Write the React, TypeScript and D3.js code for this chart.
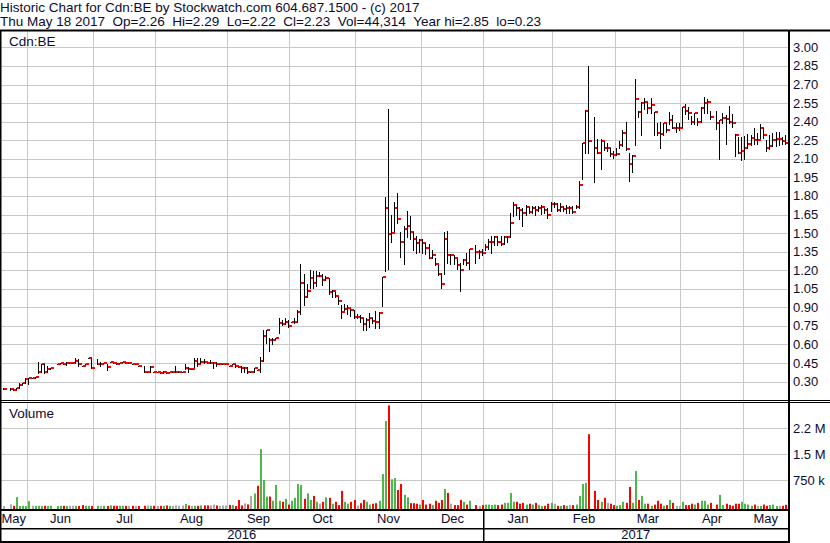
import React from 'react';
import * as d3 from 'd3';

// [high, low, close]; null = no trade that day
type Bar = [number, number, number] | null;

const MAY16: Bar[] = [null, [0.25, 0.24, 0.24], null, [0.25, 0.23, 0.24], [0.24, 0.23, 0.23], [0.25, 0.24, 0.25], [0.29, 0.25, 0.27], [0.29, 0.28, 0.29], [0.33, 0.29, 0.32]];
const JUN16: Bar[] = [[0.33, 0.28, 0.33], [0.33, 0.33, 0.33], [0.34, 0.33, 0.34], [0.46, 0.37, 0.38], [0.44, 0.38, 0.44], [0.44, 0.37, 0.38], [0.43, 0.38, 0.4], [0.41, 0.4, 0.41], null, [0.44, 0.44, 0.44], [0.45, 0.45, 0.45], [0.44, 0.44, 0.44], [0.455, 0.435, 0.45], [0.45, 0.45, 0.45], [0.45, 0.45, 0.45], [0.49, 0.45, 0.47], [0.48, 0.43, 0.44], [0.43, 0.43, 0.43], [0.44, 0.44, 0.44], [0.49, 0.49, 0.49], [0.49, 0.41, 0.41]];
const JUL16: Bar[] = [null, [0.48, 0.44, 0.44], [0.46, 0.43, 0.44], [0.45, 0.45, 0.45], [0.445, 0.39, 0.42], [0.46, 0.46, 0.46], [0.45, 0.45, 0.45], [0.44, 0.44, 0.44], [0.45, 0.45, 0.45], [0.455, 0.455, 0.455], [0.45, 0.45, 0.45], [0.45, 0.45, 0.45], [0.44, 0.44, 0.44], [0.44, 0.44, 0.44], [0.43, 0.43, 0.43], null, [0.43, 0.38, 0.38], [0.38, 0.38, 0.38], [0.43, 0.38, 0.42], [0.38, 0.38, 0.38]];
const AUG16: Bar[] = [[0.38, 0.38, 0.38], [0.37, 0.37, 0.37], [0.385, 0.37, 0.38], [0.37, 0.37, 0.37], [0.38, 0.38, 0.38], [0.38, 0.38, 0.38], [0.43, 0.38, 0.38], [0.38, 0.38, 0.38], [0.38, 0.38, 0.38], [0.44, 0.4, 0.41], [0.42, 0.38, 0.4], [0.4, 0.4, 0.4], [0.49, 0.42, 0.47], [0.49, 0.43, 0.44], [0.49, 0.45, 0.46], [0.48, 0.45, 0.455], [0.45, 0.45, 0.45], [0.475, 0.45, 0.45], [0.46, 0.41, 0.45], [0.455, 0.43, 0.44], [0.44, 0.44, 0.44], [0.44, 0.44, 0.44], [0.44, 0.44, 0.44]];
const SEP16: Bar[] = [[0.43, 0.43, 0.43], [0.44, 0.44, 0.44], [0.44, 0.42, 0.43], [0.42, 0.42, 0.42], [0.43, 0.38, 0.41], [0.42, 0.38, 0.41], [0.42, 0.37, 0.38], [0.38, 0.38, 0.38], [0.41, 0.38, 0.41], [0.39, 0.39, 0.39], [0.5, 0.38, 0.47], [0.72, 0.47, 0.665], [0.72, 0.61, 0.715], [0.655, 0.55, 0.635], [0.655, 0.6, 0.64], [0.655, 0.645, 0.655], [0.81, 0.69, 0.775], [0.8, 0.76, 0.765], [0.81, 0.765, 0.785], [0.8, 0.745, 0.75]];
const OCT16: Bar[] = [[0.78, 0.78, 0.78], [0.81, 0.775, 0.785], [0.875, 0.78, 0.86], [1.25, 0.85, 1.1], [1.17, 0.92, 0.98], [1.09, 0.985, 1.03], [1.2, 1.06, 1.14], [1.19, 1.06, 1.1], [1.19, 1.07, 1.155], [1.185, 1.15, 1.155], [1.17, 1.08, 1.12], [1.155, 1.12, 1.14], [1.14, 1.01, 1.025], [1.04, 0.985, 1.03], [1.025, 0.985, 0.99], [0.985, 0.93, 0.95], [0.92, 0.81, 0.865], [0.93, 0.88, 0.885], [0.92, 0.85, 0.895], [0.89, 0.83, 0.875], [0.875, 0.81, 0.82]];
const NOV16: Bar[] = [[0.85, 0.81, 0.82], [0.835, 0.78, 0.81], [0.81, 0.72, 0.765], [0.81, 0.72, 0.795], [0.855, 0.74, 0.815], [0.81, 0.77, 0.79], [0.87, 0.73, 0.785], [0.86, 0.73, 0.855], [1.145, 0.91, 1.145], [1.79, 1.195, 1.7], [2.5, 1.21, 1.495], [1.65, 1.43, 1.5], [1.75, 1.52, 1.7], [1.82, 1.585, 1.61], [1.51, 1.31, 1.43], [1.56, 1.25, 1.53], [1.68, 1.47, 1.56], [1.64, 1.45, 1.51], [1.51, 1.36, 1.45], [1.48, 1.34, 1.42], [1.45, 1.35, 1.44]];
const DEC16: Bar[] = [[1.45, 1.34, 1.42], [1.42, 1.33, 1.38], [1.41, 1.3, 1.3], [1.36, 1.3, 1.32], [1.3, 1.24, 1.25], [1.24, 1.16, 1.17], [1.18, 1.06, 1.09], [1.51, 1.17, 1.45], [1.52, 1.255, 1.32], [1.33, 1.25, 1.32], [1.32, 1.25, 1.3], [1.29, 1.21, 1.245], [1.26, 1.03, 1.2], [1.29, 1.25, 1.28], [1.34, 1.24, 1.255], [1.37, 1.21, 1.37], null, [1.405, 1.255, 1.345], [1.365, 1.3, 1.345], [1.375, 1.32, 1.335]];
const JAN17: Bar[] = [[1.41, 1.365, 1.385], [1.455, 1.375, 1.425], [1.48, 1.34, 1.43], [1.48, 1.4, 1.465], [1.48, 1.4, 1.43], [1.48, 1.4, 1.41], [1.48, 1.41, 1.465], [1.48, 1.43, 1.47], [1.66, 1.47, 1.58], [1.75, 1.64, 1.725], [1.73, 1.65, 1.7], [1.71, 1.61, 1.685], [1.7, 1.56, 1.66], [1.73, 1.65, 1.71], [1.71, 1.66, 1.67], [1.715, 1.66, 1.7], [1.72, 1.65, 1.685], [1.715, 1.675, 1.7], [1.73, 1.655, 1.71], [1.7, 1.66, 1.69], [1.705, 1.625, 1.645], [1.75, 1.675, 1.735]];
const FEB17: Bar[] = [[1.75, 1.71, 1.735], [1.74, 1.675, 1.69], [1.74, 1.675, 1.71], [1.72, 1.675, 1.695], [1.73, 1.665, 1.7], [1.72, 1.665, 1.7], [1.715, 1.665, 1.67], [1.73, 1.7, 1.71], [1.92, 1.7, 1.89], [2.23, 1.94, 2.23], [2.495, 2.15, 2.49], [2.85, 2.145, 2.24], null, [2.44, 1.91, 2.185], [2.26, 2.145, 2.15], [2.26, 2.02, 2.24], [2.24, 2.17, 2.19], [2.23, 2.16, 2.19], [2.19, 2.12, 2.14], [2.16, 2.11, 2.13]];
const MAR17: Bar[] = [[2.19, 2.13, 2.14], [2.24, 2.19, 2.21], [2.33, 2.2, 2.31], [2.4, 2.17, 2.18], [2.145, 1.92, 2.055], [2.13, 1.99, 2.125], [2.745, 2.21, 2.58], [2.49, 2.44, 2.48], [2.56, 2.29, 2.55], [2.59, 2.5, 2.555], [2.555, 2.47, 2.51], [2.59, 2.47, 2.535], [2.48, 2.29, 2.475], [2.39, 2.29, 2.31], [2.4, 2.19, 2.3], [2.39, 2.29, 2.39], [2.39, 2.32, 2.335], [2.48, 2.38, 2.41], [2.455, 2.345, 2.345], [2.39, 2.32, 2.345], [2.39, 2.335, 2.345]];
const APR17: Bar[] = [[2.52, 2.36, 2.515], [2.54, 2.465, 2.49], [2.515, 2.42, 2.47], [2.445, 2.38, 2.4], [2.47, 2.38, 2.47], [2.43, 2.37, 2.4], [2.52, 2.4, 2.51], [2.6, 2.47, 2.55], [2.58, 2.47, 2.56], [2.49, 2.42, 2.44], null, [2.485, 2.34, 2.39], [2.415, 2.1, 2.41], [2.47, 2.39, 2.43], [2.45, 2.22, 2.42], [2.53, 2.39, 2.395], [2.46, 2.36, 2.39], [2.3, 2.12, 2.29], [2.28, 2.145, 2.15], [2.275, 2.09, 2.165]];
const MAY17: Bar[] = [[2.285, 2.1, 2.185], [2.3, 2.19, 2.22], [2.29, 2.21, 2.265], [2.345, 2.22, 2.25], [2.31, 2.22, 2.25], [2.38, 2.265, 2.345], [2.345, 2.265, 2.29], [2.25, 2.16, 2.19], [2.29, 2.18, 2.2], [2.31, 2.2, 2.25], [2.315, 2.2, 2.26], [2.315, 2.21, 2.26], [2.28, 2.22, 2.24], [2.29, 2.22, 2.23]];

// daily volume, thousands of shares
const VOL_MAY16 = [0, 10, 0, 55, 15, 265, 10, 15, 10];
const VOL_JUN16 = [150, 15, 15, 15, 10, 15, 10, 15, 0, 10, 15, 15, 10, 15, 15, 15, 10, 35, 15, 15, 10];
const VOL_JUL16 = [0, 15, 15, 15, 10, 25, 15, 15, 15, 15, 15, 15, 15, 10, 10, 0, 15, 25, 15, 15];
const VOL_AUG16 = [10, 15, 15, 25, 15, 15, 25, 15, 25, 70, 25, 15, 15, 15, 25, 25, 25, 25, 50, 25, 15, 25, 25];
const VOL_SEP16 = [40, 35, 10, 180, 25, 85, 55, 295, 370, 590, 1650, 760, 280, 280, 160, 615, 160, 130, 215, 50];
const VOL_OCT16 = [160, 245, 645, 615, 215, 375, 185, 300, 130, 80, 130, 260, 245, 70, 130, 35, 445, 130, 75, 130, 185];
const VOL_NOV16 = [25, 90, 185, 130, 50, 75, 90, 160, 930, 2460, 2910, 780, 815, 470, 645, 330, 260, 90, 90, 75, 50];
const VOL_DEC16 = [185, 50, 75, 35, 160, 100, 185, 500, 385, 75, 35, 35, 185, 130, 50, 160, 0, 35, 10, 35];
const VOL_JAN17 = [50, 50, 35, 50, 35, 50, 100, 100, 385, 130, 130, 75, 100, 50, 75, 50, 100, 35, 10, 15, 75, 100];
const VOL_FEB17 = [75, 15, 10, 35, 15, 35, 35, 50, 300, 645, 675, 2080, 0, 445, 185, 130, 245, 100, 75, 35];
const VOL_MAR17 = [15, 35, 130, 100, 560, 100, 1015, 185, 300, 75, 75, 15, 50, 160, 75, 15, 35, 185, 100, 15, 15];
const VOL_APR17 = [130, 35, 35, 75, 50, 100, 160, 160, 50, 100, 0, 50, 330, 35, 75, 35, 15, 75, 75, 130];
const VOL_MAY17 = [75, 50, 15, 50, 15, 15, 50, 15, 35, 50, 10, 15, 15, 44];

const MONTH_LABELS = ['May', 'Jun', 'Jul', 'Aug', 'Sep', 'Oct', 'Nov', 'Dec', 'Jan', 'Feb', 'Mar', 'Apr', 'May'];
const BAR_MONTHS = [MAY16, JUN16, JUL16, AUG16, SEP16, OCT16, NOV16, DEC16, JAN17, FEB17, MAR17, APR17, MAY17];
const VOL_MONTHS = [VOL_MAY16, VOL_JUN16, VOL_JUL16, VOL_AUG16, VOL_SEP16, VOL_OCT16, VOL_NOV16, VOL_DEC16, VOL_JAN17, VOL_FEB17, VOL_MAR17, VOL_APR17, VOL_MAY17];
const YEAR_LABELS = ['2016', '2017'];
const YEAR_FIRST_MONTH = [0, 8];

const PRICE_TICKS = [3.0, 2.85, 2.7, 2.55, 2.4, 2.25, 2.1, 1.95, 1.8, 1.65, 1.5, 1.35, 1.2, 1.05, 0.9, 0.75, 0.6, 0.45, 0.3];
const VOLUME_TICKS = [2250, 1500, 750];
const VOLUME_TICK_LABELS = ['2.2 M', '1.5 M', '750 k'];

const HEADER_LINES = [
  'Historic Chart for Cdn:BE by Stockwatch.com 604.687.1500 - (c) 2017',
  'Thu May 18 2017  Op=2.26  Hi=2.29  Lo=2.22  Cl=2.23  Vol=44,314  Year hi=2.85  lo=0.23',
];

const W = 830;
const H = 543;
const AXIS_X = 788;
const PRICE_TOP = 31;
const PRICE_BOTTOM = 400;
const VOL_TOP = 403;
const VOL_BOTTOM = 509;
const DATE_BOTTOM = 528;
const FONT = '"Liberation Sans", Arial, sans-serif';
const TEXT = '#0c0c30';
const GRID = '#c8c8c8';

export default function App() {
  const bars = BAR_MONTHS.flat();
  const vols = VOL_MONTHS.flat();

  const x = d3.scaleLinear().domain([0, bars.length - 1]).range([0.3, 785]);
  const step = x(1) - x(0);
  const yP = d3.scaleLinear().domain([0.3, 3.0]).range([381.6, 47.4]);
  const yV = d3.scaleLinear().domain([0, 2250]).range([506.3, 428.3]);

  // first bar index of each month
  const monthStart: number[] = [];
  let acc = 0;
  BAR_MONTHS.forEach((m) => {
    monthStart.push(acc);
    acc += m.length;
  });
  const boundary = (mi: number) => (mi === 0 ? 0 : mi >= BAR_MONTHS.length ? AXIS_X : Math.round(x(monthStart[mi]) - step / 2) + 0.5);
  const gridXs = monthStart.slice(1).map((_, i) => boundary(i + 1));

  // volume colours from day-over-day close change
  let prev: number | null = null;
  const volColor = bars.map((b) => {
    if (!b) return '#aaaaaa';
    const c = b[2];
    const col = prev == null || c === prev ? '#aaaaaa' : c > prev ? '#4cb84c' : '#ff0000';
    prev = c;
    return col;
  });

  const janX = boundary(YEAR_FIRST_MONTH[1]);

  return (
    <svg width={W} height={H} style={{ position: 'absolute', left: 0, top: 0, background: '#fff' }} fontFamily={FONT}>
      <rect x={0} y={0} width={W} height={H} fill="#fff" />

      {/* header (non-breaking spaces keep the double gaps) */}
      {HEADER_LINES.map((t, i) => (
        <text key={i} x={0} y={12 + i * 13.5} fontSize={13.5} fill={TEXT}>
          {t.replace(/ /g, '\u00a0')}
        </text>
      ))}

      {/* price grid */}
      {PRICE_TICKS.map((t) => (
        <line key={'pg' + t} x1={0} x2={AXIS_X} y1={Math.round(yP(t)) + 0.5} y2={Math.round(yP(t)) + 0.5} stroke={GRID} />
      ))}
      {gridXs.map((gx, i) => (
        <line key={'vgp' + i} x1={gx} x2={gx} y1={PRICE_TOP} y2={PRICE_BOTTOM} stroke={GRID} />
      ))}

      {/* volume grid */}
      {VOLUME_TICKS.map((t) => (
        <line key={'vg' + t} x1={0} x2={AXIS_X} y1={Math.round(yV(t)) + 0.5} y2={Math.round(yV(t)) + 0.5} stroke={GRID} />
      ))}
      {gridXs.map((gx, i) => (
        <line key={'vgv' + i} x1={gx} x2={gx} y1={VOL_TOP} y2={VOL_BOTTOM} stroke={GRID} />
      ))}

      {/* price bars: high-low line with close tick */}
      {bars.map((b, i) => {
        if (!b) return null;
        const bx = Math.round(x(i));
        const yh = Math.round(yP(b[0]));
        const yl = Math.round(yP(b[1]));
        const yc = Math.round(yP(b[2]));
        return (
          <g key={'b' + i}>
            <rect x={bx} y={yh} width={1} height={Math.max(1, yl - yh + 1)} fill="#000" />
            <rect x={bx + 1} y={yc - 1} width={3} height={2} fill="#ff0000" />
          </g>
        );
      })}

      {/* volume bars */}
      {vols.map((v, i) => {
        if (!v) return null;
        const bx = Math.round(x(i));
        const top = yV(v);
        return <rect key={'v' + i} x={bx} y={top} width={2} height={VOL_BOTTOM - top} fill={volColor[i]} />;
      })}

      {/* frame */}
      <rect x={0} y={29.5} width={W} height={2} fill="#000" />
      <rect x={0} y={30} width={1.5} height={H - 30} fill="#000" />
      <rect x={AXIS_X} y={30} width={2} height={H - 30} fill="#000" />
      <rect x={0} y={400} width={W} height={1} fill="#000" />
      <rect x={0} y={402} width={W} height={1} fill="#000" />
      <rect x={0} y={VOL_BOTTOM} width={AXIS_X + 2} height={2} fill="#000" />
      <rect x={0} y={DATE_BOTTOM} width={AXIS_X + 2} height={1.5} fill="#000" />
      <rect x={0} y={H - 2} width={AXIS_X + 2} height={2} fill="#000" />
      <rect x={janX - 0.5} y={VOL_BOTTOM} width={1.5} height={H - VOL_BOTTOM} fill="#000" />

      {/* panel labels */}
      <text x={9} y={46} fontSize={13.5} fill={TEXT}>Cdn:BE</text>
      <text x={9} y={418} fontSize={13.5} fill={TEXT}>Volume</text>

      {/* right axis labels */}
      {PRICE_TICKS.map((t) => (
        <text key={'pl' + t} x={793} y={yP(t) + 4.5} fontSize={13} fill={TEXT}>
          {t.toFixed(2)}
        </text>
      ))}
      {VOLUME_TICKS.map((t, i) => (
        <text key={'vl' + t} x={793} y={yV(t) + 4.5} fontSize={13} fill={TEXT}>
          {VOLUME_TICK_LABELS[i]}
        </text>
      ))}

      {/* month labels */}
      {MONTH_LABELS.map((m, i) => (
        <text key={'m' + i} x={(boundary(i) + boundary(i + 1)) / 2} y={523} fontSize={13} fill={TEXT} textAnchor="middle">
          {m}
        </text>
      ))}

      {/* year labels */}
      {YEAR_LABELS.map((yl, i) => {
        const a = boundary(YEAR_FIRST_MONTH[i]);
        const b = i + 1 < YEAR_FIRST_MONTH.length ? boundary(YEAR_FIRST_MONTH[i + 1]) : AXIS_X;
        return (
          <text key={'y' + i} x={(a + b) / 2} y={538.5} fontSize={13} fill={TEXT} textAnchor="middle">
            {yl}
          </text>
        );
      })}
    </svg>
  );
}
